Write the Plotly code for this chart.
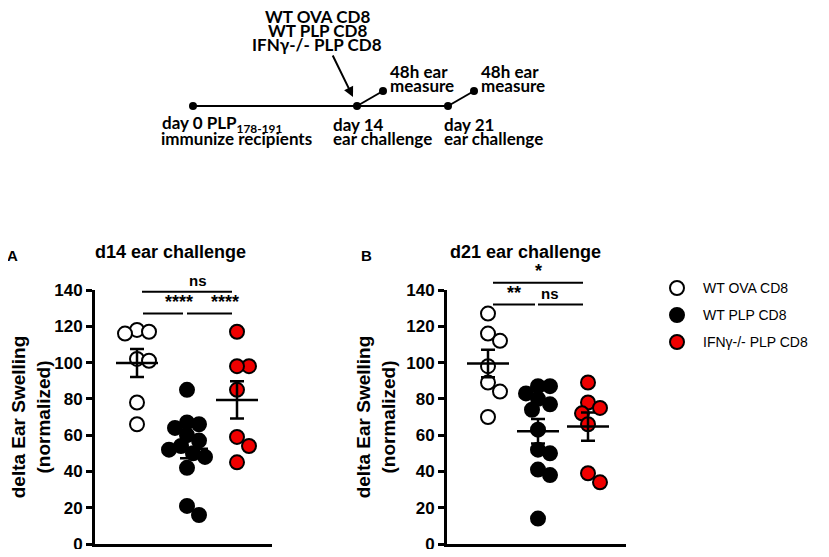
import plotly.graph_objects as go
import numpy as np

# page has an 8px body margin: figure is drawn at (8, 8) inside the 829x557 window
OFF = 8
W, H = 829 - 2 * OFF, 557 - 2 * OFF

groups = ["WT OVA CD8", "WT PLP CD8", "IFNγ-/- PLP CD8"]
colors = ["white", "black", "#f00000"]

d14_ova = [118, 117, 116, 102, 101, 78, 66]
d14_plp = [85, 67, 66, 64, 60, 57, 54, 52, 50, 48, 42, 21, 16]
d14_ifng = [117, 98, 98, 85, 59, 54, 45]

d21_ova = [127, 116, 112, 98, 89, 84, 70]
d21_plp = [87, 87, 83, 80, 77, 74, 63, 52, 50, 41, 38, 14]
d21_ifng = [89, 78, 75, 72, 66, 39, 34]

y_ticks = [0, 20, 40, 60, 80, 100, 120, 140]
y_max = 140

sig_d14 = [("ns", 1.1, 2.9, 139), ("****", 1.12, 1.92, 127), ("****", 2.0, 2.9, 127)]
sig_d21 = [("*", 1.1, 2.9, 144), ("**", 1.1, 1.94, 132), ("ns", 2.0, 2.9, 132)]

FONT = "Liberation Sans, Arial, sans-serif"
TLFONT = "Lato, Carlito, sans-serif"

panels = {
    "A": dict(x0=95, x1=272, xr=[0.16, 3.7]),
    "B": dict(x0=447, x1=626, xr=[0.18, 3.76]),
}
y_top, y_bot = 290, 544
PX_PER_X = 50.0
PX_PER_Y = (y_bot - y_top) / y_max


def swarm(vals, diam=12.0, step=6.0):
    order = np.argsort(vals)[::-1]
    placed = []
    offs = [0.0] * len(vals)
    for i in order:
        yv = vals[i] * PX_PER_Y
        k = 0
        while True:
            cands = [0.0] if k == 0 else [k * step, -k * step]
            ok = None
            for c in cands:
                if all((c - px) ** 2 + (yv - py) ** 2 >= diam ** 2 for px, py in placed):
                    ok = c
                    break
            if ok is not None:
                placed.append((ok, yv))
                offs[i] = ok / PX_PER_X
                break
            k += 1
    return offs


def px2paper_x(px):
    return (px - OFF) / W


def px2paper_y(py):
    return 1 - (py - OFF) / H


fig = go.Figure()

datasets = {"A": [d14_ova, d14_plp, d14_ifng], "B": [d21_ova, d21_plp, d21_ifng]}
axes = {"A": ("x", "y"), "B": ("x2", "y2")}

for pn, sets in datasets.items():
    xa, ya = axes[pn]
    for gi, vals in enumerate(sets):
        offs = swarm(vals)
        fig.add_trace(go.Scatter(
            x=[gi + 1 + o for o in offs], y=vals, mode="markers",
            marker=dict(size=14, color=colors[gi], line=dict(color="black", width=2)),
            name=groups[gi], showlegend=False,
            xaxis=xa, yaxis=ya, cliponaxis=False,
        ))
    for gi, vals in enumerate(sets):
        arr = np.array(vals, dtype=float)
        m = arr.mean()
        sem = arr.std(ddof=1) / np.sqrt(len(arr))
        fig.add_trace(go.Scatter(
            x=[gi + 1], y=[m], mode="markers",
            marker=dict(symbol="line-ew-open", size=30, color="black", line=dict(color="black", width=2.5)),
            error_y=dict(type="data", array=[sem], width=7, thickness=2.5, color="black"),
            showlegend=False, xaxis=xa, yaxis=ya, cliponaxis=False, hoverinfo="skip",
        ))

shapes = []
annotations = []


def data2paper(pn, xv, yv):
    p = panels[pn]
    xr = p["xr"]
    px = p["x0"] + (xv - xr[0]) / (xr[1] - xr[0]) * (p["x1"] - p["x0"])
    py = y_bot - yv * PX_PER_Y
    return px2paper_x(px), px2paper_y(py)


def label(px, py, text, font, xanchor="center"):
    annotations.append(dict(x=px2paper_x(px), y=px2paper_y(py), xref="paper", yref="paper",
                            text=text, showarrow=False, xanchor=xanchor, yanchor="middle", font=font))


for pn, sigs in (("A", sig_d14), ("B", sig_d21)):
    for txt, xa_, xb_, yv in sigs:
        x0, y0 = data2paper(pn, xa_, yv)
        x1, _ = data2paper(pn, xb_, yv)
        shapes.append(dict(type="line", xref="paper", yref="paper", x0=x0, x1=x1, y0=y0, y1=y0,
                           line=dict(color="black", width=2)))
        star = "*" in txt
        annotations.append(dict(x=(x0 + x1) / 2, y=y0 + (0 if star else 1) / H, xref="paper", yref="paper",
                                text=f"<b>{txt}</b>", showarrow=False, yanchor="bottom",
                                font=dict(family=FONT, size=18 if star else 15, color="black")))

title_font = dict(family=FONT, size=18, color="black")
label(170, 252, "<b>d14 ear challenge</b>", title_font)
label(525, 252, "<b>d21 ear challenge</b>", title_font)
letter_font = dict(family=FONT, size=15, color="black")
label(12, 255, "<b>A</b>", letter_font)
label(366, 255, "<b>B</b>", letter_font)

# manual legend
leg_x, leg_y0, leg_dy = 677, 288, 27
leg_font = dict(family=FONT, size=14, color="black")
for gi, g in enumerate(groups):
    cy = leg_y0 + gi * leg_dy
    r = 7
    shapes.append(dict(type="circle", xref="paper", yref="paper",
                       x0=px2paper_x(leg_x - r), x1=px2paper_x(leg_x + r),
                       y0=px2paper_y(cy + r), y1=px2paper_y(cy - r),
                       fillcolor=colors[gi], line=dict(color="black", width=2)))
    label(701, cy, g, leg_font, xanchor="left")

# timeline schematic
tl_y = 106
tl_pts = [(193, tl_y), (357, tl_y), (448, tl_y), (383, 91), (474, 91)]
shapes.append(dict(type="line", xref="paper", yref="paper", x0=px2paper_x(193), x1=px2paper_x(448),
                   y0=px2paper_y(tl_y), y1=px2paper_y(tl_y), line=dict(color="black", width=2)))
for (a, b) in [((357, tl_y), (383, 91)), ((448, tl_y), (474, 91))]:
    shapes.append(dict(type="line", xref="paper", yref="paper", x0=px2paper_x(a[0]), x1=px2paper_x(b[0]),
                       y0=px2paper_y(a[1]), y1=px2paper_y(b[1]), line=dict(color="black", width=2)))
for (cx, cy) in tl_pts:
    r = 4
    shapes.append(dict(type="circle", xref="paper", yref="paper", x0=px2paper_x(cx - r), x1=px2paper_x(cx + r),
                       y0=px2paper_y(cy + r), y1=px2paper_y(cy - r), fillcolor="black", line=dict(width=0)))

annotations.append(dict(x=px2paper_x(353), y=px2paper_y(97), xref="paper", yref="paper", text="",
                        showarrow=True, ax=-21, ay=-43, arrowhead=2, arrowsize=1, arrowwidth=2, arrowcolor="black"))

tl_font = dict(family=TLFONT, size=17, color="black")
label(317, 17, "<b>WT OVA CD8</b>", tl_font)
label(317, 31, "<b>WT PLP CD8</b>", tl_font)
label(317, 45, "<b>IFNγ-/- PLP CD8</b>", tl_font)
for x in (388, 479):
    label(x, 71, "<b>48h ear</b>", tl_font, xanchor="left")
    label(x, 85, "<b>measure</b>", tl_font, xanchor="left")
label(160, 124, "<b>day 0 PLP<sub>178-191</sub></b>", tl_font, xanchor="left")
label(159, 139, "<b>immunize recipients</b>", tl_font, xanchor="left")
label(331, 124, "<b>day 14</b>", tl_font, xanchor="left")
label(331, 139, "<b>ear challenge</b>", tl_font, xanchor="left")
label(442, 124, "<b>day 21</b>", tl_font, xanchor="left")
label(442, 139, "<b>ear challenge</b>", tl_font, xanchor="left")

ydom = [px2paper_y(y_bot), px2paper_y(y_top)]
xcommon = dict(showticklabels=False, ticks="", showline=True, linewidth=3, linecolor="black",
               showgrid=False, zeroline=False, fixedrange=True, automargin=False)
ycommon = dict(range=[0, y_max], tickvals=y_ticks, ticks="outside", ticklen=6, tickwidth=3,
               tickcolor="black", showline=True, linewidth=3, linecolor="black", showgrid=False,
               zeroline=False, domain=ydom, automargin=False, ticklabeloverflow="allow",
               tickfont=dict(family=FONT, size=17, color="black", weight="bold"),
               title=dict(text="<b>delta Ear Swelling<br>(normalized)</b>",
                          font=dict(family=FONT, size=19, color="black"), standoff=6))

fig.update_layout(
    width=W, height=H, margin=dict(l=0, r=0, t=0, b=0, autoexpand=False),
    paper_bgcolor="white", plot_bgcolor="white",
    xaxis=dict(domain=[px2paper_x(panels["A"]["x0"]), px2paper_x(panels["A"]["x1"])],
               range=panels["A"]["xr"], **xcommon),
    xaxis2=dict(domain=[px2paper_x(panels["B"]["x0"]), px2paper_x(panels["B"]["x1"])],
                range=panels["B"]["xr"], anchor="y2", **xcommon),
    yaxis=dict(anchor="x", **ycommon),
    yaxis2=dict(anchor="x2", **ycommon),
    shapes=shapes, annotations=annotations,
    showlegend=False,
)

fig.write_html("out.html")
